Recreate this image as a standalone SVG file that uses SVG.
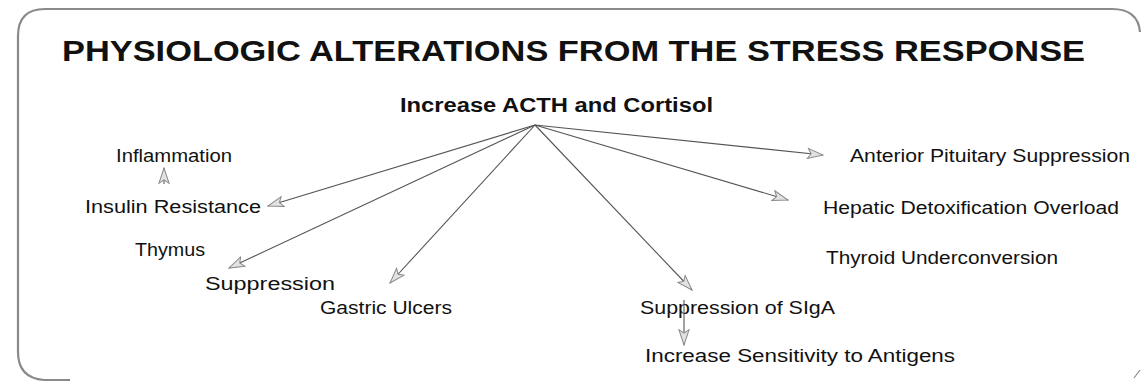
<svg xmlns="http://www.w3.org/2000/svg" width="1143" height="383" viewBox="0 0 1143 383">
<style>
.bg{fill:#ffffff}
.frame{fill:none;stroke:#8a8a8a;stroke-width:2.2}
.title{font-family:"Liberation Sans",Arial,sans-serif;font-weight:bold;font-size:30px;fill:#111}
.sub{font-family:"Liberation Sans",Arial,sans-serif;font-weight:bold;font-size:20px;fill:#111}
.lbl{font-family:"Liberation Sans",Arial,sans-serif;font-size:17.5px;fill:#111}
.conn{fill:none;stroke:#555;stroke-width:1.1;marker-end:url(#ah)}
</style>
<defs>
<marker id="ah" viewBox="0 0 20 14" refX="19" refY="7" markerWidth="17" markerHeight="12" markerUnits="userSpaceOnUse" orient="auto">
<path d="M1,1 L19,7 L1,13 L5,7 Z" fill="#e2e2e2" stroke="#8a8a8a" stroke-width="1.2"/>
</marker>
</defs>
<rect class="bg" x="0" y="0" width="1143" height="383"/>
<path class="frame" d="M1140,32 Q1138,9 1112,9 L45,9 Q18,9 18,36 L18,352 Q18,378 44,380 L70,380"/>
<path d="M1134,378 L1140,370" stroke="#8a8a8a" stroke-width="1.2" fill="none"/>
<g id="title"><text class="title" x="62" y="61" textLength="1023" lengthAdjust="spacingAndGlyphs">PHYSIOLOGIC ALTERATIONS FROM THE STRESS RESPONSE</text></g>
<g id="acth"><text class="sub" x="400" y="112" textLength="313" lengthAdjust="spacingAndGlyphs">Increase ACTH and Cortisol</text></g>
<g id="inflammation"><text class="lbl" x="116" y="162" textLength="116" lengthAdjust="spacingAndGlyphs">Inflammation</text></g>
<g id="insulin"><text class="lbl" x="85" y="213" textLength="176" lengthAdjust="spacingAndGlyphs">Insulin Resistance</text></g>
<g id="thymus"><text class="lbl" x="135" y="256" textLength="70" lengthAdjust="spacingAndGlyphs">Thymus</text><text class="lbl" x="205" y="290" textLength="130" lengthAdjust="spacingAndGlyphs">Suppression</text></g>
<g id="gastric"><text class="lbl" x="320" y="314" textLength="132" lengthAdjust="spacingAndGlyphs">Gastric Ulcers</text></g>
<g id="sigA"><text class="lbl" x="640" y="314" textLength="195" lengthAdjust="spacingAndGlyphs">Suppression of SIgA</text></g>
<g id="sensitivity"><text class="lbl" x="645" y="362" textLength="310" lengthAdjust="spacingAndGlyphs">Increase Sensitivity to Antigens</text></g>
<g id="pituitary"><text class="lbl" x="850" y="162" textLength="280" lengthAdjust="spacingAndGlyphs">Anterior Pituitary Suppression</text></g>
<g id="hepatic"><text class="lbl" x="823" y="214" textLength="296" lengthAdjust="spacingAndGlyphs">Hepatic Detoxification Overload</text></g>
<g id="thyroid"><text class="lbl" x="826" y="264" textLength="232" lengthAdjust="spacingAndGlyphs">Thyroid Underconversion</text></g>
<g id="connectors">
<path class="conn" d="M535,125 L268,206"/>
<path class="conn" d="M535,125 L229,268"/>
<path class="conn" d="M535,125 L390,283"/>
<path class="conn" d="M535,125 L692,290"/>
<path class="conn" d="M535,125 L788,200"/>
<path class="conn" d="M535,125 L823,155"/>
<path class="conn" d="M164,184 L164,168"/>
<path class="conn" d="M684,300 L684,345"/>
</g>
</svg>
